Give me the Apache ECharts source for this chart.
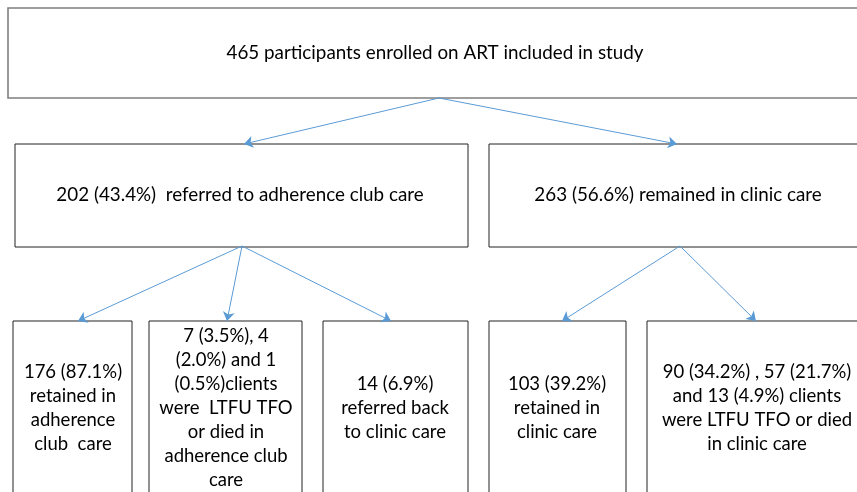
<!DOCTYPE html>
<html>
<head>
<meta charset="utf-8">
<script src="https://cdn.jsdelivr.net/npm/echarts@6/dist/echarts.min.js"></script>
<style>
  html, body { margin: 0; padding: 0; background: #fff; }
  #chart { width: 857px; height: 492px; }
</style>
</head>
<body>
<div id="chart"></div>
<script>
// box texts (flow chart content)
const boxTexts = [
  '465 participants enrolled on ART included in study',
  '202 (43.4%)  referred to adherence club care',
  '263 (56.6%) remained in clinic care',
  '176 (87.1%)\nretained in\nadherence\nclub  care',
  '7 (3.5%), 4\n(2.0%) and 1\n(0.5%)clients\nwere  LTFU TFO\nor died in\nadherence club\ncare',
  '14 (6.9%)\nreferred back\nto clinic care',
  '103 (39.2%)\nretained in\nclinic care',
  '90 (34.2%) , 57 (21.7%)\nand 13 (4.9%) clients\nwere LTFU TFO or died\nin clinic care'
]

// layout: box extents in page pixels [x0, y0, x1, y1]
const boxRects = [
  [8, 8, 880, 98],
  [15, 144, 468, 247],
  [489, 144, 880, 247],
  [13, 321, 132, 500],
  [149, 321, 302, 500],
  [323, 321, 468, 500],
  [489, 321, 626, 500],
  [647, 321, 880, 500]
]
// text centres (bottom boxes run off the page)
const textCenters = [
  [435, 53], [240, 195], [678, 195],
  [73, 408], [226, 408], [395, 408], [557, 408], [757, 408]
]

// arrows: from -> to
const arrowLinks = [
  [[439, 98], [244, 144]],
  [[439, 98], [677, 144]],
  [[242, 246], [78, 321]],
  [[242, 246], [227, 321]],
  [[242, 246], [391, 321]],
  [[680, 246], [562, 321]],
  [[680, 246], [756, 321]]
]

const chart = echarts.init(document.getElementById('chart'))

const boxData = boxRects.map((r, i) => [r[0], r[1], r[2], r[3], textCenters[i][0], textCenters[i][1], i])

const option = {
  animation: false,
  grid: { left: 0, right: 0, top: 0, bottom: 0 },
  xAxis: { type: 'value', min: 0, max: 857, show: false },
  yAxis: { type: 'value', min: 0, max: 492, inverse: true, show: false },
  series: [
    {
      type: 'custom',
      coordinateSystem: 'cartesian2d',
      clip: false,
      data: boxData,
      renderItem: (params, api) => {
        const i = api.value(6)
        const p0 = api.coord([api.value(0), api.value(1)])
        const p1 = api.coord([api.value(2), api.value(3)])
        const c = api.coord([api.value(4), api.value(5)])
        const top = i === 0
        const mid = i === 1 || i === 2
        return {
          type: 'group',
          children: [
            {
              type: 'rect',
              shape: { x: p0[0], y: p0[1], width: p1[0] - p0[0], height: p1[1] - p0[1] },
              style: {
                fill: '#fff',
                stroke: top ? '#7f7f7f' : '#222',
                lineWidth: top ? 1.6 : 1
              }
            },
            {
              type: 'text',
              x: c[0],
              y: c[1],
              scaleX: top || mid ? 0.94 : 1,
              style: {
                text: boxTexts[i],
                x: 0,
                y: 0,
                align: 'center',
                verticalAlign: 'middle',
                fill: '#000',
                fontFamily: 'Lato',
                fontSize: top || mid ? 20 : 18.5,
                lineHeight: 24
              }
            }
          ]
        }
      }
    },
    {
      type: 'lines',
      coordinateSystem: 'cartesian2d',
      symbol: ['none', 'arrow'],
      symbolSize: 9,
      lineStyle: { color: '#5b9bd5', width: 1, opacity: 1 },
      data: arrowLinks.map(l => ({ coords: l })),
      z: 5
    }
  ]
}

chart.setOption(option)
</script>
</body>
</html>
